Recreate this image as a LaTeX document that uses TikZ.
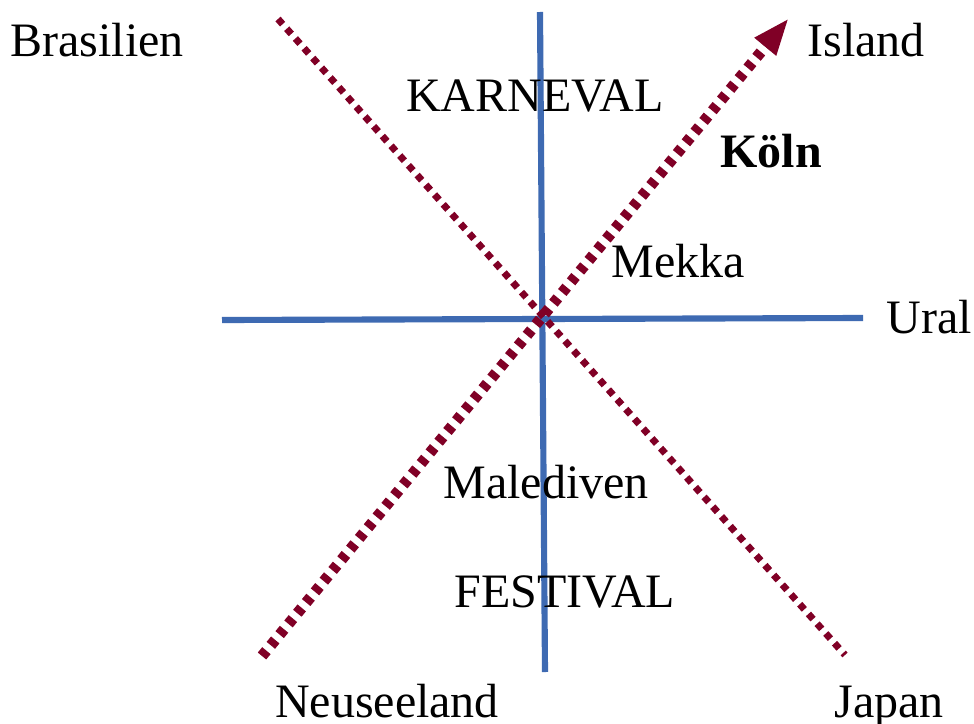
\documentclass[tikz,border=0pt]{standalone}
\usepackage{fontspec}
\setmainfont{Liberation Serif}
\usetikzlibrary{arrows.meta}
\definecolor{axisblue}{RGB}{62,106,178}
\definecolor{wine}{RGB}{128,0,38}
\tikzset{
  axis/.style={draw=axisblue, line width=4.6pt},
  dotline/.style={draw=wine, line width=5.2pt, dash pattern=on 5.2pt off 4.6pt},
  dashline/.style={draw=wine, line width=8.2pt, dash pattern=on 5.2pt off 5.2pt,
    -{Triangle[length=28pt, width=19pt]}},
  lbl/.style={font=\fontsize{36pt}{40pt}\selectfont, inner sep=0pt, anchor=base}
}
\begin{document}
\begin{tikzpicture}[x=0.75pt, y=-0.75pt]
  \useasboundingbox (0,0) rectangle (974,724);
  % axes
  \coordinate (vtop) at (540,12);
  \coordinate (vbot) at (545,672);
  \coordinate (hleft) at (222,320);
  \coordinate (hright) at (863,318);
  \draw[axis] (vtop) -- (vbot);
  \draw[axis] (hleft) -- (hright);
  % diagonals
  \coordinate (dtl) at (278,19);
  \coordinate (dbr) at (845,655);
  \draw[dotline] (dtl) -- (dbr);
  \coordinate (abl) at (262,656);
  \coordinate (atr) at (789,18);
  \draw[dashline] (abl) -- (atr);
  % labels
  \node[lbl] (brasilien) at (97,57) {Brasilien};
  \node[lbl] (island) at (866,57) {Island};
  \node[lbl] (karneval) at (535,112) {KARNEVAL};
  \node[lbl, font=\fontsize{36pt}{40pt}\selectfont\bfseries] (koeln) at (771,167) {Köln};
  \node[lbl] (mekka) at (678,277) {Mekka};
  \node[lbl] (ural) at (929,333) {Ural};
  \node[lbl] (malediven) at (546,498) {Malediven};
  \node[lbl] (festival) at (565,607) {FESTIVAL};
  \node[lbl] (neuseeland) at (387,717) {Neuseeland};
  \node[lbl] (japan) at (889,717) {Japan};
\end{tikzpicture}
\end{document}
